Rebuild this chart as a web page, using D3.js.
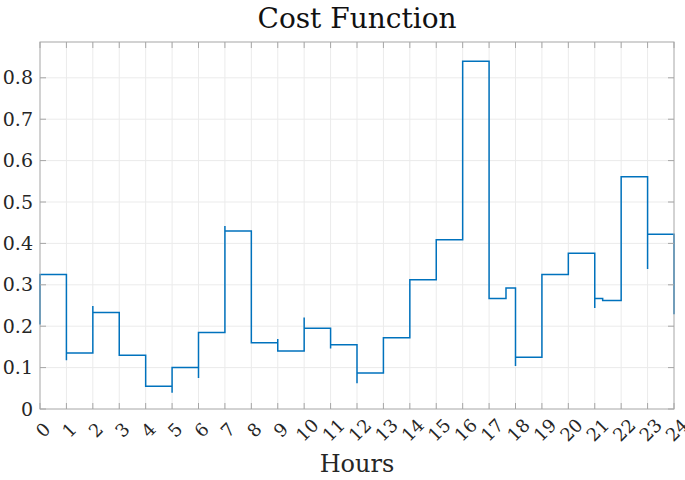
<!DOCTYPE html>
<html>
<head>
<meta charset="utf-8">
<script src="https://cdn.jsdelivr.net/npm/d3@7"></script>
<style>
  body { margin: 0; background: #fff; }
</style>
</head>
<body>
<div id="chartMain"></div>
<script>
// step boundaries (hours), level held from each boundary, and momentary spike at that boundary
const breakHours = [0, 1, 2, 3, 4, 5, 6, 7, 8, 9, 10, 11, 12, 13, 14, 15, 16, 17, 17.64, 18, 19, 20, 21, 21.3, 22, 23, 24];
const levels = [0.325, 0.135, 0.233, 0.130, 0.055, 0.100, 0.185, 0.430, 0.160, 0.140, 0.195, 0.155, 0.087,
                0.172, 0.312, 0.409, 0.840, 0.267, 0.292, 0.125, 0.325, 0.376, 0.267, 0.262, 0.561, 0.422, 0.229];
const spikes = [0.204, 0.118, 0.249, null, null, 0.039, 0.075, 0.442, null, 0.169, 0.221, 0.146, 0.062,
                null, null, null, null, null, null, 0.104, null, null, 0.244, null, null, 0.338, null];
const xTicks = d3.range(0, 25);
const yTicks = [0, 0.1, 0.2, 0.3, 0.4, 0.5, 0.6, 0.7, 0.8];

const W = 685, H = 480;
const margin = { top: 42, right: 11, bottom: 71, left: 40 };
const width = W - margin.left - margin.right,
      height = H - margin.top - margin.bottom;
const serif = "'DejaVu Serif', serif";

const svg = d3.select('#chartMain').append('svg')
    .attr('width', W).attr('height', H)
    .style('font-family', serif);
const g = svg.append('g')
    .attr('transform', `translate(${margin.left},${margin.top})`);

const x = d3.scaleLinear().domain([0, 24]).range([0, width]);
const y = d3.scaleLinear().domain([0, 0.8865]).range([height, 0]);

// grid
g.append('g').selectAll('line').data(xTicks.slice(1, -1)).join('line')
    .attr('x1', d => x(d)).attr('x2', d => x(d))
    .attr('y1', 0).attr('y2', height)
    .attr('stroke', '#ebebeb').attr('stroke-width', 1);
g.append('g').selectAll('line').data(yTicks.slice(1)).join('line')
    .attr('x1', 0).attr('x2', width)
    .attr('y1', d => y(d)).attr('y2', d => y(d))
    .attr('stroke', '#ebebeb').attr('stroke-width', 1);

// build step path points
const pts = [];
breakHours.forEach((t, i) => {
    if (i > 0) pts.push([t, levels[i - 1]]);
    if (spikes[i] != null) pts.push([t, spikes[i]]);
    pts.push([t, levels[i]]);
});

const line = d3.line().x(d => x(d[0])).y(d => y(d[1]));
g.append('path')
    .datum(pts)
    .attr('fill', 'none')
    .attr('stroke', '#0072BD')
    .attr('stroke-width', 1.5)
    .attr('d', line);

// box + inward ticks on all sides
const tk = 6;
const axisColor = '#a6a6a6';
g.append('rect')
    .attr('x', 0).attr('y', 0).attr('width', width).attr('height', height)
    .attr('fill', 'none').attr('stroke', axisColor).attr('stroke-width', 1);

const ticks = g.append('g').attr('stroke', axisColor).attr('stroke-width', 1);
xTicks.forEach(d => {
    ticks.append('line').attr('x1', x(d)).attr('x2', x(d)).attr('y1', height).attr('y2', height - tk);
    ticks.append('line').attr('x1', x(d)).attr('x2', x(d)).attr('y1', 0).attr('y2', tk);
});
yTicks.forEach(d => {
    ticks.append('line').attr('x1', 0).attr('x2', tk).attr('y1', y(d)).attr('y2', y(d));
    ticks.append('line').attr('x1', width).attr('x2', width - tk).attr('y1', y(d)).attr('y2', y(d));
});

// y tick labels
g.append('g').selectAll('text').data(yTicks).join('text')
    .attr('x', -7).attr('y', d => y(d))
    .attr('dy', '0.35em')
    .attr('text-anchor', 'end')
    .attr('fill', '#262626')
    .style('font-size', '19px')
    .text(d => d === 0 ? '0' : d3.format('.1f')(d));

// x tick labels, rotated
g.append('g').selectAll('text').data(xTicks).join('text')
    .attr('transform', d => `translate(${x(d) + 3},${height + 21}) rotate(-45)`)
    .attr('text-anchor', 'middle')
    .attr('dy', '0.35em')
    .attr('fill', '#262626')
    .style('font-size', '18px')
    .text(d => d);

// title and axis label
svg.append('text')
    .attr('x', margin.left + width / 2).attr('y', 28)
    .attr('text-anchor', 'middle')
    .attr('fill', '#111')
    .style('font-size', '28px')
    .text('Cost Function');

svg.append('text')
    .attr('x', margin.left + width / 2).attr('y', 472)
    .attr('text-anchor', 'middle')
    .attr('fill', '#262626')
    .style('font-size', '24px')
    .text('Hours');
</script>
</body>
</html>
